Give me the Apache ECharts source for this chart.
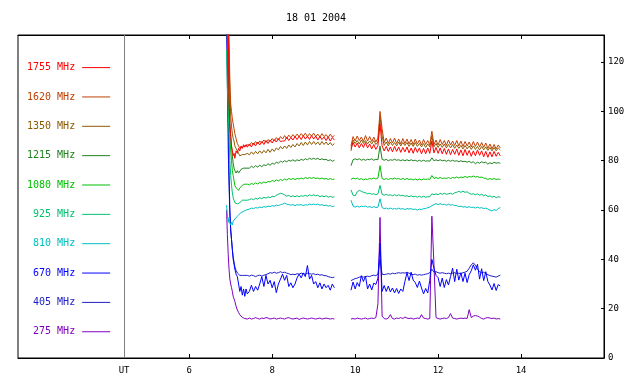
<!DOCTYPE html>
<html><head><meta charset="utf-8">
<script src="https://cdn.jsdelivr.net/npm/echarts@6/dist/echarts.min.js"></script>
<style>html,body{margin:0;padding:0;background:#fff}#c{width:640px;height:384px}</style>
</head><body><div id="c"></div>
<script>
// ---- tick labels / axis values ----
const xTicks = [6, 8, 10, 12, 14];
const utPos = 4.43;
const yTicks = [0, 20, 40, 60, 80, 100, 120];
const titleText = '18 01 2004';
const gapT = 9.70;

// ---- time samples (UT hours) ----
const timesL = [6.90,6.92,6.94,6.96,6.98,7.00,7.02,7.04,7.06,7.08,7.10,7.13,7.16,7.19,7.22,7.25,7.28,7.31,7.34,7.37,7.40,
7.45,7.50,7.55,7.60,7.65,7.70,7.75,7.80,7.85,7.90,7.95,8.00,8.05,8.10,8.15,8.20,8.25,8.30,8.35,8.40,
8.45,8.50,8.55,8.60,8.65,8.70,8.75,8.80,8.85,8.90,8.95,9.00,9.05,9.10,9.15,9.20,9.25,9.30,9.35,9.40,9.45,9.50];
const timesR = [9.90,9.95,10.00,10.05,10.10,10.15,10.20,10.25,10.30,10.35,
10.40,10.45,10.50,10.55,10.60,10.65,10.70,10.75,10.80,10.85,
10.90,10.95,11.00,11.05,11.10,11.15,11.20,11.25,11.30,11.35,
11.40,11.45,11.50,11.55,11.60,11.65,11.70,11.75,11.80,11.85,
11.90,11.95,12.00,12.05,12.10,12.15,12.20,12.25,12.30,12.35,
12.40,12.45,12.50,12.55,12.60,12.65,12.70,12.75,12.80,12.85,
12.90,12.95,13.00,13.05,13.10,13.15,13.20,13.25,13.30,13.35,
13.40,13.45,13.50];

// ---- series values ----
const f1755L = [140,140,135,105,95,90,86,84,82,83,81,84,83,85,84,86,85,86.5,85.5,86.5,85.5,
86.8,85.6,87.2,86.0,87.6,86.4,87.8,86.6,88.2,87.0,88.4,87.2,88.6,87.6,89.0,87.8,88.0,88.0,89.6,88.2,
89.4,88.4,89.8,88.6,90.0,88.6,90.2,88.8,90.0,88.6,90.2,88.8,90.0,88.4,89.8,88.6,89.6,88.2,89.6,88.0,89.4,88.4];
const f1755R = [85.0,87.4,85.6,87.2,85.2,87.0,85.4,87.4,85.2,86.8,
84.8,86.6,84.6,86.2,95.0,86.0,84.0,85.8,83.8,85.6,
83.6,85.8,83.8,85.6,83.4,85.4,83.6,85.6,83.2,85.2,
83.0,85.4,83.4,85.2,82.8,85.0,82.8,85.2,83.0,88.0,
83.2,85.4,83.0,85.2,82.8,85.0,82.6,84.8,82.4,84.6,
82.6,84.8,82.2,84.4,82.0,84.6,82.2,84.2,81.8,84.0,
82.0,84.4,82.2,84.0,81.6,83.8,81.4,83.6,81.6,83.8,
81.8,83.4,82.0];

const f1620L = [140,140,140,130,112,103,100,97,95,93,91,89,87,86,85,84.5,85.5,85,86,85.5,86.5,
86.2,87.4,86.6,87.8,86.8,88.0,87.2,88.4,87.4,88.6,87.8,89.0,88.0,89.4,88.4,89.8,88.8,90.2,89.0,90.4,
89.4,90.6,89.6,90.8,89.8,91.0,90.0,91.2,89.8,91.0,90.0,91.2,89.8,90.8,89.6,91.0,89.8,90.6,89.4,90.8,89.6,90.2];
const f1620R = [86.0,89.8,88.0,90.0,88.2,89.6,87.8,90.2,88.0,89.8,
87.8,89.6,87.6,89.2,100.0,93.0,87.4,89.2,87.0,89.0,
87.2,89.2,87.0,88.8,86.8,89.0,87.0,88.8,86.8,88.6,
86.6,88.8,86.8,88.4,86.4,88.6,86.6,88.2,86.4,92.0,
86.6,88.4,86.4,88.6,86.6,88.2,86.2,88.4,86.4,88.0,
86.2,88.2,86.0,88.0,85.8,87.8,86.0,87.6,85.6,87.8,
85.8,87.6,85.6,87.4,85.4,87.2,85.0,86.8,84.8,86.6,
84.8,86.4,85.2];

const f1350L = [140,140,140,125,108,98,94,91,89,88,86,85,84,83,82,81.5,82.5,82,82.5,82,83,
82.4,83.6,82.6,83.8,82.8,84.0,83.0,84.2,83.2,84.6,83.4,84.8,83.8,85.2,84.4,85.8,84.8,86.0,85.0,86.4,
85.4,86.6,85.6,87.0,86.0,87.4,86.2,87.6,86.4,87.8,86.6,87.8,86.6,87.6,86.4,87.8,86.6,87.6,86.4,87.4,86.2,87.0];
const f1350R = [84.0,88.4,87.0,88.2,86.8,88.4,87.0,88.2,86.8,88.0,
86.8,88.2,86.6,87.6,98.0,90.0,86.2,87.6,86.0,87.6,
86.2,87.4,86.0,87.6,86.0,87.4,86.2,87.4,85.8,87.2,
85.8,87.4,85.8,87.0,85.6,87.0,85.4,86.8,85.6,90.0,
85.6,87.0,85.4,86.8,85.4,86.8,85.2,86.6,85.2,86.6,
85.0,86.4,85.0,86.2,84.8,86.2,84.8,86.0,84.6,86.0,
84.6,85.8,84.4,85.8,84.4,85.6,84.2,85.4,84.0,85.4,
84.0,85.2,84.4];

const f1215L = [140,140,120,105,95,90,86,82,79,77,76,75,76,75,75.5,76.5,76,77,76.5,77,77.5,
77.0,77.8,77.2,78.0,77.4,78.2,77.6,78.4,78.0,78.8,78.2,79.0,78.6,79.4,79.0,79.8,79.4,80.0,79.6,80.2,
79.8,80.4,79.8,80.4,80.0,80.6,80.2,80.8,80.4,81.0,80.6,81.0,80.6,81.0,80.4,80.8,80.4,80.6,80.0,80.4,79.8,80.2];
const f1215R = [78.0,80.4,80.8,80.4,80.8,80.2,80.6,80.2,80.6,80.4,
80.8,80.2,80.6,80.4,86.0,80.6,80.2,80.6,80.0,80.4,
80.2,80.6,80.2,80.4,80.0,80.4,80.0,80.4,80.0,80.4,
80.0,80.2,79.8,80.2,79.8,80.2,79.8,80.0,79.8,81.2,
80.0,80.4,80.0,80.4,80.0,80.2,79.8,80.2,79.8,80.2,
79.8,80.0,79.6,80.0,79.6,79.8,79.4,79.8,79.2,79.6,
78.8,79.4,79.0,79.6,79.2,79.4,78.6,79.2,78.8,79.4,
79.0,79.2,79.0];

const f1080L = [140,130,115,100,90,84,80,76,74,72,70,69,68.5,68,69,69.5,70,69.5,70.5,70,70.5,
70.2,70.8,70.4,71.0,70.6,71.2,70.8,71.4,71.0,71.6,71.4,72.0,71.6,72.2,71.8,72.4,72.0,72.6,72.2,72.8,
72.4,72.8,72.4,72.8,72.6,73.0,72.6,73.2,72.8,73.2,72.8,73.2,72.8,73.0,72.6,73.0,72.6,72.8,72.4,72.8,72.4,72.6];
const f1080R = [72.4,73.0,72.6,73.0,72.4,72.8,72.2,72.6,72.4,72.8,
72.6,73.0,72.6,73.0,78.0,72.8,72.4,72.8,72.4,72.8,
72.6,73.0,72.6,72.8,72.4,72.8,72.4,72.8,72.4,72.6,
72.2,72.6,72.2,72.6,72.2,72.6,72.4,72.6,72.4,74.0,
72.8,73.2,72.8,73.2,72.8,73.0,72.8,73.2,72.8,73.2,
73.0,73.4,73.0,73.4,73.2,73.6,73.2,73.6,73.4,73.8,
73.4,73.6,73.2,73.4,73.0,72.8,72.4,72.8,72.4,72.8,
72.4,72.6,72.4];

const f925L = [125,110,100,90,80,74,70,67,65,64,63,62.5,62.5,63,63,63.5,64,63.5,64,64.5,64,
64.2,64.6,64.2,64.8,64.4,65.0,64.6,65.2,64.8,65.4,65.0,65.6,65.4,66.0,66.4,66.8,66.6,66.2,65.6,66.0,
65.4,65.8,65.4,65.8,65.4,65.8,65.6,66.0,65.6,66.2,65.8,66.2,65.8,66.0,65.4,65.8,65.4,65.8,65.2,65.6,65.2,65.4];
const f925R = [68.2,66.0,65.8,67.4,68.0,67.6,67.2,67.0,66.6,66.8,
66.4,66.6,66.2,66.6,70.0,66.4,66.0,66.4,66.0,66.2,
65.8,66.2,65.8,66.2,65.8,66.0,65.6,65.8,65.4,65.8,
65.4,65.6,65.2,65.6,65.2,65.6,65.2,65.4,65.4,66.6,
66.2,66.6,66.2,66.8,66.4,66.8,66.4,66.6,66.8,66.4,
67.0,67.2,67.6,67.2,67.6,67.2,67.4,66.8,66.4,66.6,
66.2,66.6,66.0,66.4,65.8,66.2,65.4,65.8,65.2,65.6,
65.0,65.4,65.2];

const f810L = [62,58,55,57,55,54,55,54,55.5,55,56,57,57.5,58,58.5,59,59,59.5,60,60,60.5,
60.4,60.8,60.6,61.0,60.8,61.2,61.0,61.4,61.2,61.6,61.4,61.8,61.6,62.0,61.8,62.2,62.4,62.8,62.4,62.2,
62.0,62.2,61.8,62.2,62.0,62.2,61.8,62.2,62.0,62.4,62.2,62.4,62.2,62.4,62.0,62.2,61.8,62.0,61.6,61.8,61.4,61.6];
const f810R = [64.0,61.6,61.2,61.6,61.2,61.6,61.4,61.6,61.2,61.4,
61.0,61.4,61.0,61.2,64.6,61.0,60.6,60.8,60.4,60.8,
60.4,60.6,60.4,60.8,60.4,60.6,60.2,60.6,60.4,60.6,
60.2,60.4,60.0,60.4,60.2,60.6,60.6,61.0,61.2,61.8,
62.2,62.6,62.2,62.6,62.2,62.4,62.0,62.4,62.0,62.2,
61.8,61.8,61.4,61.6,61.2,61.4,61.0,61.4,61.0,61.2,
60.8,61.2,60.8,61.0,60.6,60.8,60.4,60.0,59.6,60.2,
59.8,60.6,61.0];

const f670L = [140,140,100,75,60,52,48,44,40,38,36,34,33,30,27,29,25.5,28,25,28,26,
27,29.5,27,29,27.5,30,33,29,33.5,30,31.5,28.5,31,26.5,30,32,34,31.5,33.5,29,
30.5,28.5,30,32.5,34,32.5,34.5,33,37.5,32,33.5,30,31,28.5,30.5,28,30,28.5,29.5,27.5,30,28.5];
const f670R = [27.5,30.8,28.0,30.6,29.0,33.4,31.0,33.2,28.0,30.0,
27.6,30.4,29.8,32.4,46.5,27.0,29.4,27.0,29.2,26.8,
28.4,26.4,28.2,26.2,28.0,27.0,31.0,34.6,31.4,34.8,
31.6,30.6,28.6,31.2,28.4,26.0,28.2,26.4,31.5,40.0,
36.5,33.5,32.6,29.0,32.4,28.6,31.8,29.6,33.0,36.4,
31.0,36.0,31.6,34.6,31.0,34.4,30.6,33.8,35.4,37.8,
35.6,38.0,32.0,36.2,31.4,35.0,31.0,29.6,27.6,30.2,
27.4,29.8,29.2];

const f405L = [140,110,85,70,58,52,48,44,41,39,37,35.5,34.5,34,33.5,33,33.5,33,33.5,33.8,33.5,
33.2,33.6,33.4,33.0,33.4,33.6,33.2,33.6,33.8,34.2,34.6,34.4,34.8,34.4,34.6,35.0,34.6,34.8,34.4,34.2,
33.8,34.0,33.8,34.2,34.0,34.4,34.2,34.0,34.4,34.2,34.0,34.2,33.8,34.0,33.6,33.8,33.4,33.4,33.0,32.8,32.6,32.8];
const f405R = [31.4,31.8,32.2,32.4,32.8,33.0,32.8,33.0,33.2,33.0,
33.4,33.6,33.4,34.0,40.0,34.0,33.8,34.0,34.2,34.0,
34.4,34.2,34.4,34.6,34.4,34.6,34.4,34.8,34.4,34.0,
33.8,34.0,33.6,33.8,33.6,33.8,34.0,34.2,34.6,36.0,
34.8,35.0,34.6,34.4,34.6,34.4,34.2,34.4,34.2,34.4,
34.6,34.2,34.4,34.2,34.6,34.8,35.2,36.4,37.8,38.6,
37.6,36.0,35.0,34.6,34.8,34.2,33.8,33.4,33.2,33.0,
32.8,33.2,33.6];

const f275L = [60,50,42,36,32,30,28.5,27,25,24,23,21,19.5,18.5,17.5,17,16.5,16.2,16,16.3,15.8,
16.2,15.8,16.0,16.4,16.0,15.8,16.2,16.0,16.4,16.2,15.8,16.0,16.2,15.8,16.0,16.2,16.0,15.8,16.2,16.4,
16.0,15.8,16.0,16.2,15.6,16.0,16.2,16.0,15.8,16.0,16.2,16.0,15.8,16.0,16.2,15.8,16.0,16.2,16.0,15.8,16.0,15.8];
const f275R = [15.8,16.0,15.8,16.2,16.0,15.8,16.0,16.2,15.8,16.0,
16.2,16.0,16.4,22.0,57.0,17.0,16.0,15.8,16.2,17.6,
16.0,15.8,16.2,16.0,16.4,16.0,16.6,16.2,16.0,16.2,
15.8,16.0,16.2,16.0,17.6,16.2,16.0,15.8,16.0,57.5,
38.0,16.4,16.0,15.8,16.0,16.2,16.0,16.4,18.0,16.2,
16.0,15.8,16.0,16.2,16.0,16.2,16.0,19.6,16.4,17.0,
17.2,17.0,16.6,16.0,15.8,16.2,16.4,16.2,16.0,16.2,
15.8,16.0,15.8];

// drawing order (first = bottom)
const seriesDefs = [
  ['275 MHz', '#8000c0', f275L, f275R],
  ['405 MHz', '#2020c8', f405L, f405R],
  ['670 MHz', '#0000ff', f670L, f670R],
  ['810 MHz', '#00c0c0', f810L, f810R],
  ['925 MHz', '#00c070', f925L, f925R],
  ['1080 MHz', '#00c000', f1080L, f1080R],
  ['1215 MHz', '#208020', f1215L, f1215R],
  ['1350 MHz', '#8c5a00', f1350L, f1350R],
  ['1620 MHz', '#c04000', f1620L, f1620R],
  ['1755 MHz', '#ff0000', f1755L, f1755R]
];

function build(L, R) {
  const d = [];
  timesL.forEach((t, i) => d.push([t, L[i]]));
  d.push([gapT, null]);
  timesR.forEach((t, i) => d.push([t, R[i]]));
  return d;
}

const MONO = 'DejaVu Sans Mono';
const series = seriesDefs.map((s, idx) => {
  const o = {
    name: s[0], type: 'line', symbol: 'none', showSymbol: false,
    data: build(s[2], s[3]), connectNulls: false, clip: true,
    lineStyle: { color: s[1], width: 1 }, itemStyle: { color: s[1] },
    emphasis: { disabled: true }, silent: true, z: 2 + idx
  };
  if (idx === 0) {
    o.markLine = {
      silent: true, symbol: ['none', 'none'], label: { show: false },
      lineStyle: { color: '#808080', width: 1, type: 'solid' },
      emphasis: { disabled: true },
      data: [{ xAxis: utPos }]
    };
  }
  return o;
});

const legendData = seriesDefs.slice().reverse().map(s => ({ name: s[0], textStyle: { color: s[1] } }));

const chart = echarts.init(document.getElementById('c'), null, { renderer: 'canvas' });
chart.setOption({
  animation: false,
  backgroundColor: '#ffffff',
  title: {
    text: titleText, left: 311, top: 8, textAlign: 'center',
    textStyle: { fontFamily: MONO, fontSize: 10, fontWeight: 'normal', color: '#000' }
  },
  legend: {
    orient: 'vertical', left: 27, top: 62, padding: 0,
    itemWidth: 28, itemHeight: 14, itemGap: 18.15, align: 'right',
    selectedMode: false,
    itemStyle: { color: 'rgba(0,0,0,0)', borderWidth: 0, opacity: 0 },
    lineStyle: { width: 1 },
    textStyle: { fontFamily: MONO, fontSize: 10, padding: [0, 2, 0, 0] },
    data: legendData
  },
  grid: { left: 18, right: 36, top: 35, bottom: 26, show: true, borderColor: '#000', borderWidth: 1, containLabel: false },
  xAxis: [{
    type: 'value', min: 1.872, max: 16, position: 'bottom',
    axisLine: { show: true, lineStyle: { color: '#000', width: 1 } },
    axisTick: { show: true, inside: true, length: 4, customValues: xTicks, lineStyle: { color: '#000' } },
    axisLabel: {
      show: true, customValues: [utPos].concat(xTicks), margin: 8,
      fontFamily: MONO, fontSize: 9, color: '#000',
      formatter: v => (Math.abs(v - utPos) < 1e-6 ? 'UT' : String(v))
    },
    splitLine: { show: false }
  }, {
    type: 'value', min: 1.872, max: 16, position: 'top',
    axisLine: { show: true, lineStyle: { color: '#000', width: 1 } },
    axisTick: { show: true, inside: true, length: 4, customValues: xTicks, lineStyle: { color: '#000' } },
    axisLabel: { show: false },
    splitLine: { show: false }
  }],
  yAxis: [{
    type: 'value', min: 0, max: 131, position: 'right',
    axisLine: { show: true, lineStyle: { color: '#000', width: 1 } },
    axisTick: { show: true, inside: true, length: 3, customValues: yTicks, lineStyle: { color: '#000' } },
    axisLabel: { show: true, customValues: yTicks, margin: 4, fontFamily: MONO, fontSize: 9, color: '#000' },
    splitLine: { show: false }
  }],
  series: series
});
</script>
</body></html>
